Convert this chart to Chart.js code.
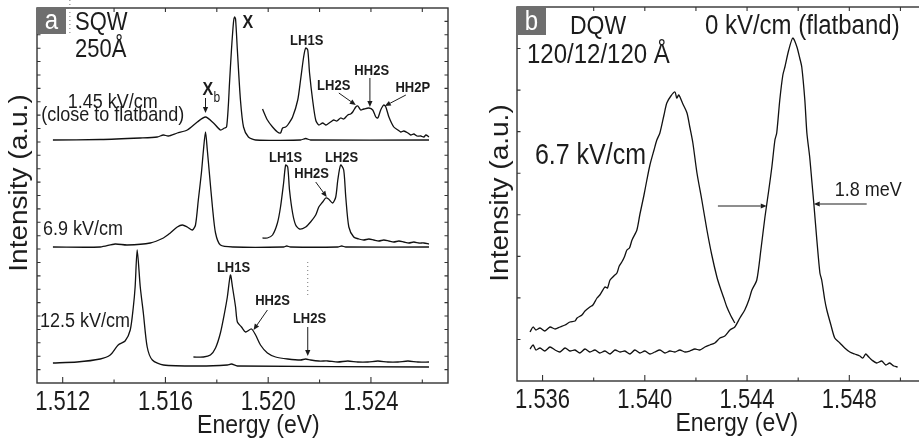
<!DOCTYPE html>
<html>
<head>
<meta charset="utf-8">
<script src="https://cdn.jsdelivr.net/npm/chart.js@4.4.0/dist/chart.umd.min.js"></script>
<style>
  html, body { margin: 0; padding: 0; background: #fff; overflow: hidden; width: 919px; height: 444px; }
  #wrapA { position: absolute; left: 0; top: 0; }
  #wrapB { position: absolute; left: 460px; top: 0; }
</style>
</head>
<body>
<div id="wrapA"><canvas id="chartA" width="460" height="444"></canvas></div>
<div id="wrapB"><canvas id="chartB" width="480" height="444"></canvas></div>
<script>
// ---- panel a : SQW 250 A, energies in eV, intensity in arbitrary units ----
const sqwFlatE = [1.51162,1.51346,1.51502,1.51568,1.51592,1.51611,1.51646,1.51685,1.51724,1.51756,1.51787,1.51814,1.51830,1.51838,1.51845,1.51849,1.51857,1.51865,1.51869,1.51873,1.51880,1.51892,1.51904,1.51923,1.51951,1.52126,1.52146,1.52165,1.52626];
const sqwFlatI = [243,243.5,245,246,248,247,250,253,261,266,260,253,255,256,278,298,333,361,366,364,333,283,256,246,243,243,244.5,243,243];
const sqwFlatZoomE = [1.51978,1.51997,1.52017,1.52036,1.52048,1.52056,1.52068,1.52076,1.52095,1.52115,1.52126,1.52138,1.52146,1.52154,1.52161,1.52173,1.52185,1.52197,1.52212,1.52224,1.52232,1.52243,1.52255,1.52267,1.52282,1.52294,1.52310,1.52321,1.52329,1.52341,1.52349,1.52360,1.52372,1.52392,1.52407,1.52419,1.52427,1.52438,1.52450,1.52458,1.52470,1.52489,1.52505,1.52516,1.52528,1.52544,1.52555,1.52567,1.52579,1.52594,1.52606,1.52614,1.52626];
const sqwFlatZoomI = [274,263,256,251,250,255,256,258,266,283,303,326,335,333,310,283,263,258,260,258,259,261,263,262,265,264,268,269,271,276,277,273,274,275,273,266,265,273,278,276,266,256,253,251,252,250,248,249,247,247,246,248,246];

const sqwMidE = [1.51162,1.51346,1.51404,1.51451,1.51541,1.51592,1.51619,1.51646,1.51666,1.51685,1.51705,1.51717,1.51728,1.51740,1.51748,1.51756,1.51763,1.51771,1.51783,1.51795,1.51814,1.51865,1.52060,1.52072,1.52087,1.52271,1.52286,1.52302,1.52626];
const sqwMidI = [136,136,139,138,140,145,150,156,158,156,153,158,183,210,233,251,233,210,176,150,138,136,136,137,136,136,137,136,136];
const sqwMidZoomE = [1.51978,1.51997,1.52017,1.52036,1.52048,1.52060,1.52068,1.52076,1.52083,1.52095,1.52107,1.52122,1.52146,1.52165,1.52185,1.52197,1.52212,1.52224,1.52235,1.52251,1.52263,1.52271,1.52282,1.52294,1.52302,1.52314,1.52333,1.52353,1.52372,1.52392,1.52411,1.52431,1.52450,1.52470,1.52489,1.52509,1.52528,1.52548,1.52567,1.52587,1.52606,1.52626];
const sqwMidZoomI = [145,145,148,160,176,200,218,216,193,170,158,154,156,161,168,176,181,185,184,180,186,203,218,213,186,156,146,144,143,144,143,142,143,142,141,142,141,140,141,140,140,139];

const sqwHighE = [1.51162,1.51256,1.51346,1.51385,1.51416,1.51443,1.51463,1.51475,1.51482,1.51490,1.51502,1.51514,1.51529,1.51549,1.51592,1.51736,1.51841,1.51857,1.51880,1.52626];
const sqwHighI = [20,21,24,28,38,42,53,76,96,133,96,70,36,23,18,17,18,19,17,16];
const sqwHighZoomE = [1.51709,1.51748,1.51775,1.51795,1.51814,1.51830,1.51841,1.51853,1.51861,1.51873,1.51880,1.51896,1.51912,1.51935,1.51951,1.51970,1.51997,1.52029,1.52076,1.52126,1.52146,1.52165,1.52197,1.52232,1.52271,1.52310,1.52349,1.52388,1.52427,1.52466,1.52505,1.52544,1.52583,1.52626];
const sqwHighZoomI = [26,26,28,35,50,70,86,108,96,76,61,56,51,54,48,38,30,26,24,23,24,23,22,22,21,22,21,21,22,21,21,22,21,21];

const aTickMajor = [1.512, 1.516, 1.520, 1.524];
const aTickMinor = [1.514, 1.518, 1.522, 1.526];
const aTickLabels = ['1.512', '1.516', '1.520', '1.524'];

// ---- panel b : DQW 120/12/120 A ----
const dqwFlatE = [1.53551,1.53563,1.53574,1.53590,1.53609,1.53629,1.53649,1.53668,1.53688,1.53707,1.53727,1.53746,1.53766,1.53785,1.53805,1.53824,1.53844,1.53864,1.53883,1.53903,1.53922,1.53942,1.53961,1.53981,1.54000,1.54020,1.54039,1.54059,1.54079,1.54098,1.54118,1.54137,1.54157,1.54176,1.54196,1.54215,1.54235,1.54254,1.54274,1.54294,1.54313,1.54333,1.54352,1.54372,1.54391,1.54407,1.54419,1.54438,1.54454,1.54470,1.54485,1.54497,1.54509,1.54516,1.54528,1.54540,1.54548,1.54563,1.54579,1.54595,1.54606,1.54614,1.54626,1.54634,1.54645,1.54653,1.54661,1.54673,1.54685,1.54692,1.54704,1.54712,1.54728,1.54743,1.54763,1.54782,1.54802,1.54821,1.54841,1.54853,1.54864,1.54876,1.54888,1.54907,1.54927,1.54943,1.54958,1.54974,1.54989];
const dqwFlatI = [32,36,31,33,30,34,31,29,33,30,31,28,32,29,31,28,30,27,31,29,30,27,31,28,30,27,29,31,28,30,29,31,29,30,32,31,34,36,38,43,45,51,54,63,71,81,91,101,131,164,191,214,241,248,281,306,314,331,343,334,323,314,281,248,224,201,178,141,108,101,81,71,56,43,38,33,29,27,25,23,27,24,21,18,20,16,18,15,14];
const dqwFieldE = [1.53551,1.53563,1.53574,1.53590,1.53609,1.53629,1.53649,1.53668,1.53688,1.53707,1.53727,1.53735,1.53754,1.53766,1.53785,1.53797,1.53813,1.53824,1.53844,1.53854,1.53864,1.53879,1.53891,1.53900,1.53910,1.53920,1.53930,1.53940,1.53950,1.53969,1.53981,1.53996,1.54008,1.54020,1.54036,1.54047,1.54059,1.54075,1.54086,1.54102,1.54118,1.54125,1.54133,1.54149,1.54165,1.54176,1.54188,1.54204,1.54223,1.54243,1.54262,1.54282,1.54294,1.54309,1.54321,1.54337,1.54352];
const dqwFieldI = [49,54,51,53,50,54,52,54,56,59,60,63,66,70,74,76,83,86,94,93,101,105,108,115,119,124,131,133,141,151,167,185,201,216,231,241,248,266,278,285,289,283,286,277,268,254,238,208,181,151,126,104,94,83,74,65,58];

const bTickMajor = [1.536, 1.540, 1.544, 1.548];
const bTickMinor = [1.538, 1.542, 1.546, 1.550];
const bTickLabels = ['1.536', '1.540', '1.544', '1.548'];

const FONT = '"Liberation Sans", Arial, Helvetica, sans-serif';
const INK = '#1c1c1c';
const STRETCH = 1.15;   // the printed figure is slightly stretched vertically

function points(es, is) {
    return es.map((e, i) => ({ x: e, y: is[i] }));
}

function txt(ctx, s, x, y, size, o) {
    o = o || {};
    ctx.save();
    ctx.font = (o.bold ? 'bold ' : '') + size + 'px ' + FONT;
    ctx.fillStyle = o.color || INK;
    ctx.textAlign = o.align || 'left';
    ctx.textBaseline = o.base || 'alphabetic';
    ctx.translate(x, y);
    if (o.rot) {
        ctx.rotate(o.rot);
        ctx.scale(o.sl || 1, 1);
    } else {
        ctx.scale(1, o.sy || STRETCH);
    }
    ctx.fillText(s, 0, 0);
    ctx.restore();
}

function arrow(ctx, x1, y1, x2, y2) {
    const ang = Math.atan2(y2 - y1, x2 - x1);
    const L = 6, W = 2.6;
    const bx = x2 - L * Math.cos(ang), by = y2 - L * Math.sin(ang);
    ctx.beginPath();
    ctx.moveTo(x1, y1);
    ctx.lineTo(bx, by);
    ctx.stroke();
    ctx.beginPath();
    ctx.moveTo(x2, y2);
    ctx.lineTo(bx + W * Math.sin(ang), by - W * Math.cos(ang));
    ctx.lineTo(bx - W * Math.sin(ang), by + W * Math.cos(ang));
    ctx.closePath();
    ctx.fill();
}

// frame, inward ticks, labels and annotations, all placed through the chart scales
function decor(p) {
    return {
        id: 'decor',
        afterDatasetsDraw(chart) {
            const { ctx, chartArea: a, scales: { x, y } } = chart;
            const X = v => x.getPixelForValue(v);
            const Y = v => y.getPixelForValue(v);
            ctx.save();
            ctx.strokeStyle = '#333';
            ctx.lineWidth = 1.4;
            ctx.strokeRect(a.left, a.top, a.right - a.left, a.bottom - a.top);

            ctx.lineWidth = 1.1;
            ctx.beginPath();
            p.major.forEach(v => {
                ctx.moveTo(X(v), a.bottom); ctx.lineTo(X(v), a.bottom - 6);
                ctx.moveTo(X(v), a.top); ctx.lineTo(X(v), a.top + 4);
            });
            p.minor.forEach(v => {
                ctx.moveTo(X(v), a.bottom); ctx.lineTo(X(v), a.bottom - 3.5);
                ctx.moveTo(X(v), a.top); ctx.lineTo(X(v), a.top + 4);
            });
            for (let k = 1; k < p.yDiv; k++) {
                const py = Y(y.max * k / p.yDiv);
                ctx.moveTo(a.left, py); ctx.lineTo(a.left + 3.5, py);
                ctx.moveTo(a.right, py); ctx.lineTo(a.right - 3.5, py);
            }
            ctx.stroke();

            p.major.forEach((v, i) => txt(ctx, p.labels[i], X(v), a.bottom + 27, 22, { align: 'center', sy: 1.25 }));
            txt(ctx, 'Energy (eV)', X(p.titleAt), a.bottom + 50, 23, { align: 'center' });
            txt(ctx, 'Intensity (a.u.)', a.left + p.yTitleDx, Y(p.yTitleAt), 25,
                { align: 'center', base: 'middle', rot: -Math.PI / 2, sl: 1.12 });

            // panel letter
            ctx.fillStyle = '#6e6e6e';
            ctx.fillRect(a.left, a.top, p.box[0], p.box[1]);
            txt(ctx, p.letter, a.left + p.box[0] / 2, a.top + p.box[1] - 5, 24, { align: 'center', color: '#fff' });

            if (p.dots) {
                ctx.save();
                ctx.strokeStyle = '#777';
                ctx.lineWidth = 1;
                ctx.setLineDash([1, 3]);
                p.dots.forEach(d => {
                    ctx.beginPath();
                    ctx.moveTo(X(d[0]), Y(d[1]));
                    ctx.lineTo(X(d[0]), Y(d[2]));
                    ctx.stroke();
                });
                ctx.restore();
            }

            p.notes.forEach(n => txt(ctx, n.t, X(n.e), Y(n.i), n.size, { bold: n.bold, align: n.align }));

            ctx.strokeStyle = INK;
            ctx.fillStyle = INK;
            ctx.lineWidth = 1;
            p.arrows.forEach(r => arrow(ctx, X(r[0]), Y(r[1]), X(r[2]), Y(r[3])));
            ctx.restore();
        }
    };
}

function curve(es, is) {
    return {
        data: points(es, is),
        borderColor: '#111',
        borderWidth: 1.3,
        pointRadius: 0,
        tension: 0.25,
        fill: false
    };
}

function makeChart(id, datasets, xMin, xMax, yMax, pad, deco) {
    return new Chart(document.getElementById(id), {
        type: 'line',
        data: { datasets: datasets },
        options: {
            responsive: false,
            animation: false,
            devicePixelRatio: 1,
            layout: { padding: pad },
            plugins: { legend: { display: false }, tooltip: { enabled: false } },
            scales: {
                x: { type: 'linear', min: xMin, max: xMax, display: false },
                y: { type: 'linear', min: 0, max: yMax, display: false }
            }
        },
        plugins: [decor(deco)]
    });
}

makeChart('chartA', [
    curve(sqwFlatE, sqwFlatI), curve(sqwFlatZoomE, sqwFlatZoomI),
    curve(sqwMidE, sqwMidI), curve(sqwMidZoomE, sqwMidZoomI),
    curve(sqwHighE, sqwHighI), curve(sqwHighZoomE, sqwHighZoomI)
], 1.511, 1.527, 375, { left: 37, top: 8, right: 12, bottom: 61 }, {
    major: aTickMajor, minor: aTickMinor, labels: aTickLabels, yDiv: 28,
    titleAt: 1.51962, yTitleDx: -17, yTitleAt: 200, letter: 'a', box: [29, 26],
    dots: [[1.52154, 121, 86], [1.51228, 383, 350]],
    notes: [
        { t: 'SQW', e: 1.51248, i: 353, size: 22 },
        { t: '250Å', e: 1.51248, i: 326, size: 22 },
        { t: 'X', e: 1.51900, i: 355, size: 16, bold: true },
        { t: 'X', e: 1.51744, i: 288, size: 16, bold: true },
        { t: 'b', e: 1.51787, i: 281, size: 12 },
        { t: '1.45 kV/cm', e: 1.51395, i: 275, size: 18, align: 'center' },
        { t: '(close to flatband)', e: 1.51395, i: 262, size: 18, align: 'center' },
        { t: 'LH1S', e: 1.52150, i: 338, size: 13, bold: true, align: 'center' },
        { t: 'LH2S', e: 1.52255, i: 293, size: 13, bold: true, align: 'center' },
        { t: 'HH2S', e: 1.52403, i: 308, size: 13, bold: true, align: 'center' },
        { t: 'HH2P', e: 1.52563, i: 291, size: 13, bold: true, align: 'center' },
        { t: 'LH1S', e: 1.52068, i: 221, size: 13, bold: true, align: 'center' },
        { t: 'LH2S', e: 1.52286, i: 221, size: 13, bold: true, align: 'center' },
        { t: 'HH2S', e: 1.52169, i: 205, size: 13, bold: true, align: 'center' },
        { t: '6.9 kV/cm', e: 1.51123, i: 148, size: 18 },
        { t: 'LH1S', e: 1.51865, i: 111, size: 13, bold: true, align: 'center' },
        { t: 'HH2S', e: 1.52017, i: 78, size: 13, bold: true, align: 'center' },
        { t: 'LH2S', e: 1.52161, i: 60, size: 13, bold: true, align: 'center' },
        { t: '12.5 kV/cm', e: 1.51112, i: 56, size: 18 }
    ],
    arrows: [
        [1.51756, 285, 1.51756, 270],
        [1.52275, 290, 1.52341, 278],
        [1.52396, 305, 1.52396, 276],
        [1.52536, 288, 1.52454, 277],
        [1.52185, 201, 1.52228, 186],
        [1.51997, 73, 1.51943, 53],
        [1.52154, 56, 1.52154, 27]
    ]
});

makeChart('chartB', [
    curve(dqwFieldE, dqwFieldI), curve(dqwFlatE, dqwFlatI)
], 1.535, 1.551, 374, { left: 57, top: 7, right: 14, bottom: 63 }, {
    major: bTickMajor, minor: bTickMinor, labels: bTickLabels, yDiv: 9,
    titleAt: 1.54360, yTitleDx: -16, yTitleAt: 188, letter: 'b', box: [29, 28],
    notes: [
        { t: 'DQW', e: 1.53707, i: 347, size: 23 },
        { t: '0 kV/cm (flatband)', e: 1.54235, i: 347, size: 24 },
        { t: '120/12/120 Å', e: 1.53539, i: 318, size: 24 },
        { t: '6.7 kV/cm', e: 1.53570, i: 217, size: 25 },
        { t: '1.8 meV', e: 1.54743, i: 185, size: 18 }
    ],
    arrows: [
        [1.54286, 175, 1.54477, 175],
        [1.54868, 177, 1.54661, 177]
    ]
});
</script>
</body>
</html>
